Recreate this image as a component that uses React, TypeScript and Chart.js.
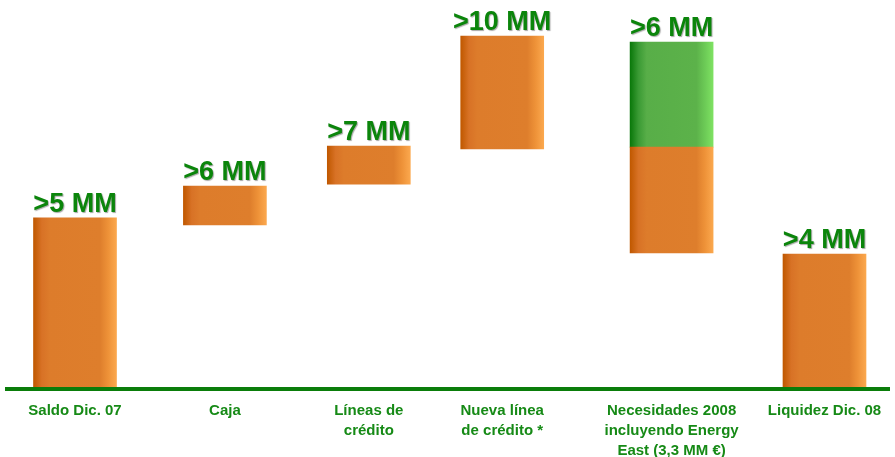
import React, { useEffect, useRef } from "react";
import { Chart, registerables } from "chart.js";

Chart.register(...registerables);

// ---- data ----
const categories: string[][] = [
  ["Saldo Dic. 07"],
  ["Caja"],
  ["Líneas de", "crédito"],
  ["Nueva línea", "de crédito *"],
  ["Necesidades 2008", "incluyendo Energy", "East (3,3 MM €)"],
  ["Liquidez Dic. 08"],
];
const valueLabels = [">5 MM", ">6 MM", ">7 MM", ">10 MM", ">6 MM", ">4 MM"];
// category positions along the x axis (in category units)
const categoryX = [0, 1, 1.96, 2.85, 3.98, 5];
const orangeLow = [0, 5.19, 6.48, 7.59, 4.3, 0];
const orangeHigh = [5.41, 6.42, 7.68, 11.16, 7.65, 4.27];
const greenLow: (number | null)[] = [null, null, null, null, 7.65, null];
const greenHigh: (number | null)[] = [null, null, null, null, 10.97, null];

const BAR_W = 83;
const GREEN_TEXT = "#0b850b";
const LABEL_TEXT = "#168a16";

function gradientFor(ctx: any, stops: [number, string][], base: string) {
  const chart = ctx.chart;
  const raw = ctx.raw;
  if (!chart || !chart.chartArea || !raw || raw.x === undefined) return base;
  const xs = chart.scales.x;
  const px = xs.getPixelForValue(raw.x);
  const g = chart.ctx.createLinearGradient(px - BAR_W / 2, 0, px + BAR_W / 2, 0);
  stops.forEach(([o, c]) => g.addColorStop(o, c));
  return g;
}

const orangeStops: [number, string][] = [
  [0, "#c05800"],
  [0.1, "#d87226"],
  [0.2, "#dd7c2b"],
  [0.8, "#de7e2c"],
  [0.9, "#ee9238"],
  [1, "#fba84e"],
];
const greenStops: [number, string][] = [
  [0, "#0a780a"],
  [0.1, "#3a9a34"],
  [0.2, "#58ae48"],
  [0.8, "#5cb24a"],
  [0.9, "#6cca56"],
  [1, "#7ee262"],
];

const overlayPlugin = {
  id: "overlay",
  afterDatasetsDraw(chart: any) {
    const { ctx, chartArea, scales } = chart;
    const xs = scales.x;
    const ys = scales.y;
    ctx.save();
    // axis line
    ctx.strokeStyle = "#0a7d0a";
    ctx.lineWidth = 4;
    ctx.beginPath();
    ctx.moveTo(chartArea.left, chartArea.bottom);
    ctx.lineTo(chartArea.right, chartArea.bottom);
    ctx.stroke();

    // value labels
    ctx.textAlign = "center";
    ctx.textBaseline = "alphabetic";
    ctx.font = "bold 27px 'Liberation Sans', Arial, sans-serif";
    ctx.shadowColor = "rgba(0,0,0,0.35)";
    ctx.shadowOffsetX = 1;
    ctx.shadowOffsetY = 1;
    ctx.shadowBlur = 1;
    ctx.fillStyle = GREEN_TEXT;
    valueLabels.forEach((lab, i) => {
      const top = Math.max(orangeHigh[i], greenHigh[i] ?? -Infinity);
      const px = xs.getPixelForValue(categoryX[i]);
      const py = ys.getPixelForValue(top);
      ctx.fillText(lab, px, py - 6);
    });

    // category labels
    ctx.shadowColor = "transparent";
    ctx.font = "bold 15px 'Liberation Sans', Arial, sans-serif";
    ctx.fillStyle = LABEL_TEXT;
    ctx.textBaseline = "middle";
    categories.forEach((lines, i) => {
      const px = xs.getPixelForValue(categoryX[i]);
      lines.forEach((ln, j) => {
        ctx.fillText(ln, px, chartArea.bottom + 22 + j * 20);
      });
    });
    ctx.restore();
  },
};

export default function App() {
  const ref = useRef<HTMLCanvasElement>(null);
  useEffect(() => {
    document.body.style.margin = "0";
    if (!ref.current) return;
    const chart = new Chart(ref.current, {
      type: "bar",
      data: {
        datasets: [
          {
            label: "orange",
            data: categoryX.map((x, i) => ({ x, y: [orangeLow[i], orangeHigh[i]] })) as any,
            backgroundColor: (c: any) => gradientFor(c, orangeStops, "#de7e2c"),
            barThickness: BAR_W,
            grouped: false,
            borderWidth: 0,
          } as any,
          {
            label: "green",
            data: categoryX
              .map((x, i) =>
                greenLow[i] === null ? null : { x, y: [greenLow[i], greenHigh[i]] }
              )
              .filter((d) => d !== null) as any,
            backgroundColor: (c: any) => gradientFor(c, greenStops, "#5cb24a"),
            barThickness: BAR_W,
            grouped: false,
            borderWidth: 0,
          } as any,
        ],
      },
      options: {
        animation: false,
        responsive: true,
        maintainAspectRatio: false,
        layout: { padding: { left: 5, right: 5, top: 0, bottom: 68 } },
        plugins: { legend: { display: false }, tooltip: { enabled: false } },
        scales: {
          x: { type: "linear", min: -0.467, max: 5.437, offset: false, display: false },
          y: { min: 0, max: 12.3, display: false },
        },
      },
      plugins: [overlayPlugin],
    });
    return () => chart.destroy();
  }, []);
  return (
    <div style={{ position: "relative", width: 895, height: 457 }}>
      <canvas ref={ref} />
    </div>
  );
}
